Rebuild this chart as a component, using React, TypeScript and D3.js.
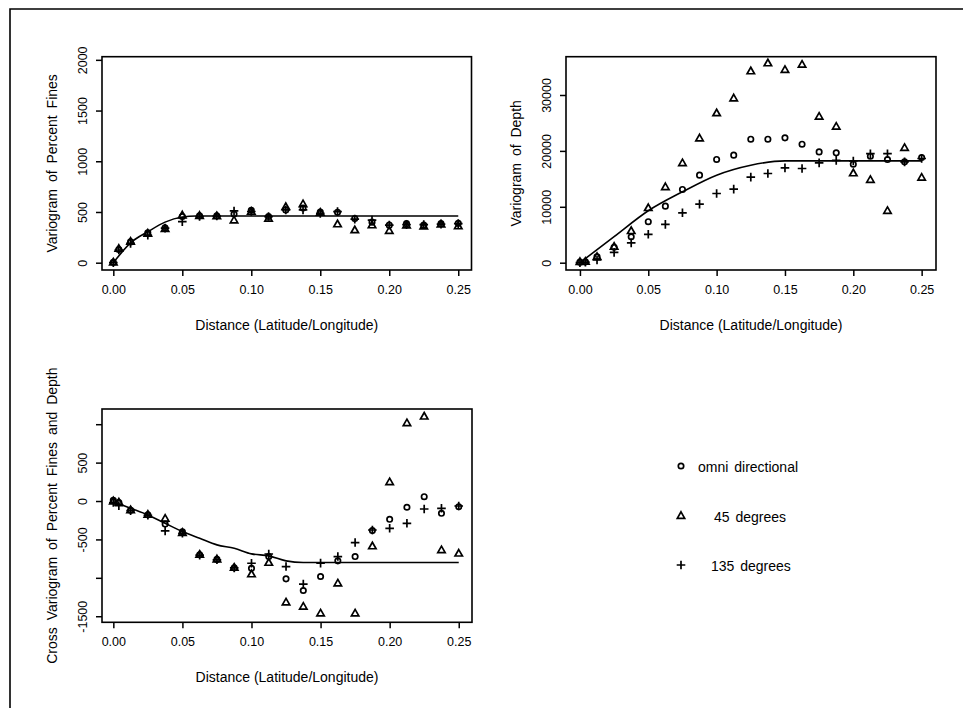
import React, { useEffect, useRef } from 'react';
import * as d3 from 'd3';

// lag distances shared by all three panels
const lags = [0, 0.004, 0.0125, 0.025, 0.0375, 0.05, 0.0625, 0.075, 0.0875, 0.1, 0.1125,
  0.125, 0.1375, 0.15, 0.1625, 0.175, 0.1875, 0.2, 0.2125, 0.225, 0.2375, 0.25];

// Variogram of percent fines
const finesOmni = [5, 130, 205, 295, 345, 455, 462, 462, 480, 517, 455, 520, 540, 500, 497, 435, 400, 370, 385, 370, 385, 388];
const fines45 = [5, 140, 210, 290, 335, 470, 465, 462, 420, 505, 437, 552, 580, 495, 382, 323, 372, 316, 370, 360, 380, 362];
const fines135 = [0, 125, 190, 270, 340, 405, 455, 460, 510, 505, 455, 520, 520, 486, 504, 430, 420, 370, 375, 375, 380, 385];
const finesModelX = [0, 0.0135, 0.025, 0.0375, 0.05, 0.06, 0.25];
const finesModelY = [0, 207, 305, 400, 450, 460, 460];

// Variogram of depth
const depthOmni = [100, 150, 1070, 2750, 4640, 7330, 10120, 13100, 15660, 18470, 19240, 22090, 22090, 22330, 21200, 19820, 19650, 17620, 19050, 18450, 18040, 18820];
const depth45 = [200, 250, 1100, 2900, 5720, 9830, 13580, 17860, 22300, 26790, 29460, 34300, 35730, 34540, 35490, 26190, 24400, 16050, 14860, 9330, 20600, 15270];
const depth135 = [0, 100, 480, 1850, 3540, 5080, 6850, 8930, 10480, 12380, 13170, 15300, 15960, 16970, 16850, 17850, 18300, 18200, 19500, 19500, 18040, 18640];
const depthModelX = [0, 0.025, 0.05, 0.075, 0.1, 0.125, 0.15, 0.25];
const depthModelY = [0, 4650, 9290, 12680, 15660, 17440, 18220, 18220];

// Cross variogram
const crossOmni = [10, -20, -120, -180, -300, -400, -700, -760, -870, -875, -723, -1013, -1165, -983, -779, -723, -385, -238, -81, 56, -160, -74];
const cross45 = [0, -15, -115, -175, -225, -410, -695, -755, -865, -950, -800, -1316, -1372, -1459, -1069, -1459, -585, 250, 1017, 1104, -636, -680];
const cross135 = [-20, -60, -125, -185, -390, -420, -705, -765, -870, -810, -690, -853, -1082, -809, -723, -541, -377, -355, -290, -104, -95, -65];
const crossModelX = [0, 0.0125, 0.025, 0.0375, 0.05, 0.0625, 0.075, 0.0875, 0.1, 0.1125, 0.125, 0.1375, 0.25];
const crossModelY = [-9, -95, -182, -290, -398, -485, -571, -615, -688, -714, -779, -800, -800];

const xTicks = [0, 0.05, 0.1, 0.15, 0.2, 0.25];
const finesTicks = [0, 500, 1000, 1500, 2000];
const depthTicks = [0, 10000, 20000, 30000];
const crossTicks = [-1500, -1000, -500, 0, 500, 1000];
const crossTickLabels = ['-1500', '', '-500', '0', '500', ''];

const legendLabels = ['omni directional', '45 degrees', '135 degrees'];

const FONT = 'Liberation Sans, Arial, sans-serif';

const App = () => {
  const ref = useRef<SVGSVGElement>(null);

  useEffect(() => {
    const svg = d3.select(ref.current);
    svg.selectAll('*').remove();

    // outer frame (open on the right and bottom)
    svg.append('path')
      .attr('d', 'M10,708 L10,9 L963,9')
      .attr('fill', 'none')
      .attr('stroke', '#000')
      .attr('stroke-width', 1.6);

    const drawMarker = (g: any, kind: number, cx: number, cy: number) => {
      if (kind === 0) {
        g.append('circle').attr('cx', cx).attr('cy', cy).attr('r', 2.7)
          .attr('fill', 'none').attr('stroke', '#000').attr('stroke-width', 1.7);
      } else if (kind === 1) {
        const s = 3.7;
        g.append('path')
          .attr('d', `M${cx},${cy - s} L${cx + s},${cy + s * 0.75} L${cx - s},${cy + s * 0.75} Z`)
          .attr('fill', 'none').attr('stroke', '#000').attr('stroke-width', 1.7);
      } else {
        const s = 4.3;
        g.append('path')
          .attr('d', `M${cx - s},${cy} L${cx + s},${cy} M${cx},${cy - s} L${cx},${cy + s}`)
          .attr('fill', 'none').attr('stroke', '#000').attr('stroke-width', 1.7);
      }
    };

    const panel = (opts: any) => {
      const { left, right, top, bottom, xDom, yDom, yTicks, yLabels, series, modelX, modelY, ylab } = opts;
      const x = d3.scaleLinear().domain(xDom).range([left, right]);
      const y = d3.scaleLinear().domain(yDom).range([bottom, top]);
      const g = svg.append('g');

      g.append('rect')
        .attr('x', left).attr('y', top)
        .attr('width', right - left).attr('height', bottom - top)
        .attr('fill', 'none').attr('stroke', '#000').attr('stroke-width', 1.6);

      const xa = g.append('g')
        .attr('transform', `translate(0,${bottom})`)
        .call(d3.axisBottom(x).tickValues(xTicks).tickSize(6).tickPadding(9)
          .tickFormat((d: any) => d3.format('.2f')(d)));
      xa.select('.domain').remove();

      const ya = g.append('g')
        .attr('transform', `translate(${left},0)`)
        .call(d3.axisLeft(y).tickValues(yTicks).tickSize(6).tickPadding(0)
          .tickFormat((d: any, i: number) => yLabels[i]));
      ya.select('.domain').remove();
      ya.selectAll('.tick text')
        .attr('x', null).attr('dy', null)
        .attr('text-anchor', 'middle')
        .attr('transform', 'translate(-15,0) rotate(-90)');

      g.selectAll('.tick line').attr('stroke', '#000').attr('stroke-width', 1.5);
      g.selectAll('.tick text').attr('fill', '#000')
        .style('font-family', FONT).style('font-size', '12.5px');

      g.append('path')
        .datum(modelX.map((v: number, i: number) => [v, modelY[i]]))
        .attr('fill', 'none').attr('stroke', '#000').attr('stroke-width', 1.6)
        .attr('d', d3.line().x((d: any) => x(d[0])).y((d: any) => y(d[1])).curve(d3.curveMonotoneX));

      series.forEach((vals: number[], k: number) => {
        vals.forEach((v, i) => drawMarker(g, k, x(lags[i]), y(v)));
      });

      g.append('text')
        .attr('transform', `translate(${(left + right) / 2},${bottom + 60})`)
        .attr('text-anchor', 'middle')
        .style('font-family', FONT).style('font-size', '14px')
        .text('Distance (Latitude/Longitude)');

      g.append('text')
        .attr('transform', `translate(${left - 45},${(top + bottom) / 2}) rotate(-90)`)
        .attr('text-anchor', 'middle')
        .style('font-family', FONT).style('font-size', '14px')
        .style('word-spacing', '3px')
        .text(ylab);
    };

    panel({
      left: 102, right: 471.5, top: 56.7, bottom: 270,
      xDom: [-0.0082, 0.2596], yDom: [-72, 2031],
      yTicks: finesTicks, yLabels: finesTicks.map(String),
      series: [finesOmni, fines45, fines135],
      modelX: finesModelX, modelY: finesModelY,
      ylab: 'Variogram of Percent Fines',
    });

    panel({
      left: 566, right: 936, top: 56.7, bottom: 270,
      xDom: [-0.0102, 0.2605], yDom: [-1306, 36850],
      yTicks: depthTicks, yLabels: depthTicks.map(String),
      series: [depthOmni, depth45, depth135],
      modelX: depthModelX, modelY: depthModelY,
      ylab: 'Variogram of Depth',
    });

    panel({
      left: 102, right: 472, top: 409, bottom: 622.3,
      xDom: [-0.0082, 0.2596], yDom: [-1579, 1198],
      yTicks: crossTicks, yLabels: crossTickLabels,
      series: [crossOmni, cross45, cross135],
      modelX: crossModelX, modelY: crossModelY,
      ylab: 'Cross Variogram of Percent Fines and Depth',
    });

    // legend
    const legendY = d3.scalePoint().domain(legendLabels).range([466, 565]);
    const textX = [698, 714, 711];
    legendLabels.forEach((lab, k) => {
      drawMarker(svg, k, 681, legendY(lab) as number);
      svg.append('text')
        .attr('x', textX[k]).attr('y', (legendY(lab) as number) + 6)
        .style('font-family', FONT).style('font-size', '14px')
        .style('word-spacing', '2px')
        .text(lab);
    });

    return () => {
      svg.selectAll('*').remove();
    };
  }, []);

  return (
    <svg ref={ref} width={963} height={708}
      style={{ position: 'absolute', left: 0, top: 0, background: '#fff' }} />
  );
};

export default App;
